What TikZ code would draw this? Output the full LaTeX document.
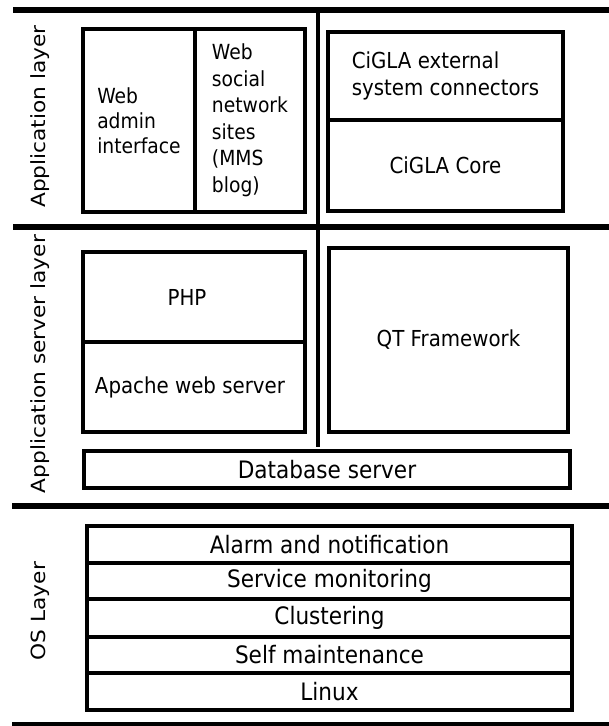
\documentclass[tikz,border=0pt]{standalone}
\usepackage{fontspec}
\usepackage{graphicx}
\setmainfont{DejaVu Sans}[FakeStretch=0.9]
\newfontfamily\plainfont{DejaVu Sans}
\newcommand\fsz[2]{\fontsize{#1bp}{#2bp}\selectfont}
\tikzset{
  layerline/.style={line width=5.5bp},
  divider/.style={line width=4bp},
  box/.style={draw, line width=3.5bp, inner sep=0pt, align=center},
  layerlabel/.style={rotate=90, anchor=base, inner sep=0pt, font=\plainfont\fsz{21.7}{24}},
}
\begin{document}
\begin{tikzpicture}[x=1bp,y=-1bp]
\useasboundingbox (0,0) rectangle (609,726);
\fill[white] (0,0) rectangle (609,726);
% layer separators
\draw[layerline] (13,10) -- (609,10);
\draw[layerline] (13,227) -- (609,227);
\draw[layerline] (12,506) -- (609,506);
\draw[layerline] (12,724.5) -- (609,724.5);
\draw[divider] (318,10) -- (318,447);
% layer labels
\node[layerlabel] (lapp) at (45,116.5) {\scalebox{1}[0.9]{Application layer}};
\node[layerlabel] (lsrv) at (45,364) {\scalebox{1}[0.9]{Application server layer}};
\node[layerlabel] (los) at (45,611) {\scalebox{1}[0.9]{OS Layer}};
% application layer
\node[box, align=left, minimum width=112bp, minimum height=183bp, font=\fsz{20.8}{25}] (admin) at (139,120.5) {Web\\admin\\interface};
\node[box, align=left, minimum width=110bp, minimum height=183bp, font=\fsz{20.8}{26.5}] (social) at (250,120.5) {Web\\social\\network\\sites\\(MMS\\blog)};
\node[box, align=left, minimum width=235bp, minimum height=88bp, font=\fsz{22}{27}] (ext) at (445.5,76) {CiGLA external\\system connectors};
\node[box, minimum width=235bp, minimum height=91bp, font=\fsz{22}{26}] (core) at (445.5,165.5) {CiGLA Core};
% application server layer
\node[box, minimum width=222bp, minimum height=90bp, font=\fsz{22}{26}] (php) at (194,297) {PHP\hspace*{14bp}};
\node[box, minimum width=222bp, minimum height=90bp, font=\fsz{22}{26}] (apache) at (194,387) {Apache web server\hspace*{8bp}};
\node[box, minimum width=239bp, minimum height=184bp, font=\fsz{22}{26}] (qt) at (448.5,340) {QT Framework};
\node[box, minimum width=486bp, minimum height=37bp, font=\fsz{24}{28}] (db) at (327,469.5) {Database server};
% OS layer
\node[box, minimum width=485bp, minimum height=37bp, font=\fsz{24}{28}] (alarm) at (329.5,544.5) {Alarm and notification};
\node[box, minimum width=485bp, minimum height=36bp, font=\fsz{24}{28}] (mon) at (329.5,581) {Service monitoring};
\node[box, minimum width=485bp, minimum height=38bp, font=\fsz{24}{28}] (clus) at (329.5,618) {Clustering};
\node[box, minimum width=485bp, minimum height=36bp, font=\fsz{24}{28}] (self) at (329.5,655) {Self maintenance};
\node[box, minimum width=485bp, minimum height=37bp, font=\fsz{24}{28}] (linux) at (329.5,691.5) {Linux};
\end{tikzpicture}
\end{document}
